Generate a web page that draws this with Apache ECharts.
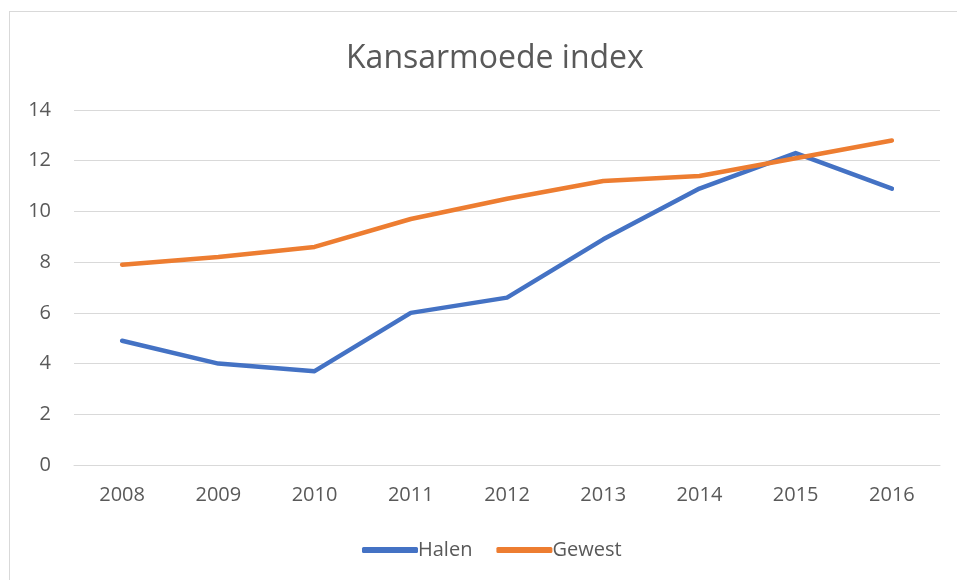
<!DOCTYPE html>
<html>
<head>
<meta charset="utf-8">
<script src="https://cdn.jsdelivr.net/npm/echarts@6/dist/echarts.min.js"></script>
<style>
  html, body { margin: 0; padding: 0; background: #fff; }
  #frame {
    position: absolute; left: 9px; top: 11px; width: 960px; height: 580px;
    border: 1px solid #d9d9d9; box-sizing: border-box;
  }
  #chart { position: absolute; left: 0; top: 0; width: 957px; height: 580px; }
</style>
</head>
<body>
<div id="frame"></div>
<div id="chart"></div>
<script>
  const years = ['2008', '2009', '2010', '2011', '2012', '2013', '2014', '2015', '2016'];
  const halen = [4.9, 4.0, 3.7, 6.0, 6.6, 8.9, 10.9, 12.3, 10.9];
  const gewest = [7.9, 8.2, 8.6, 9.7, 10.5, 11.2, 11.4, 12.1, 12.8];

  const font = '"Open Sans", "Noto Sans", sans-serif';
  const chart = echarts.init(document.getElementById('chart'));

  const lineSeries = (name, values, color) => ({
    name: name,
    type: 'line',
    data: values,
    symbol: 'none',
    lineStyle: { color: color, width: 4.5, cap: 'round', join: 'round' },
    itemStyle: { color: color },
    animation: false
  });

  chart.setOption({
    title: {
      text: 'Kansarmoede index',
      left: 341,
      top: 38,
      textStyle: { color: '#595959', fontSize: 32, fontWeight: 'normal', fontFamily: font }
    },
    grid: { left: 74, right: 17, top: 110, bottom: 115 },
    legend: {
      top: 535,
      left: 357,
      itemWidth: 56,
      itemHeight: 6,
      itemGap: 24,
      icon: 'roundRect',
      textStyle: { color: '#595959', fontSize: 20, fontFamily: font, padding: [0, 0, 0, -5] },
      data: ['Halen', 'Gewest']
    },
    xAxis: {
      type: 'category',
      data: years,
      axisLine: { lineStyle: { color: '#d9d9d9', width: 1 } },
      axisTick: { show: false },
      axisLabel: { color: '#595959', fontSize: 20, fontFamily: font, margin: 20 }
    },
    yAxis: {
      type: 'value',
      min: 0,
      max: 14,
      interval: 2,
      axisLine: { show: false },
      axisTick: { show: false },
      splitLine: { lineStyle: { color: '#d9d9d9', width: 1 } },
      axisLabel: { color: '#595959', fontSize: 20, fontFamily: font, margin: 23 }
    },
    series: [
      lineSeries('Halen', halen, '#4472C4'),
      lineSeries('Gewest', gewest, '#ED7D31')
    ]
  });
</script>
</body>
</html>
